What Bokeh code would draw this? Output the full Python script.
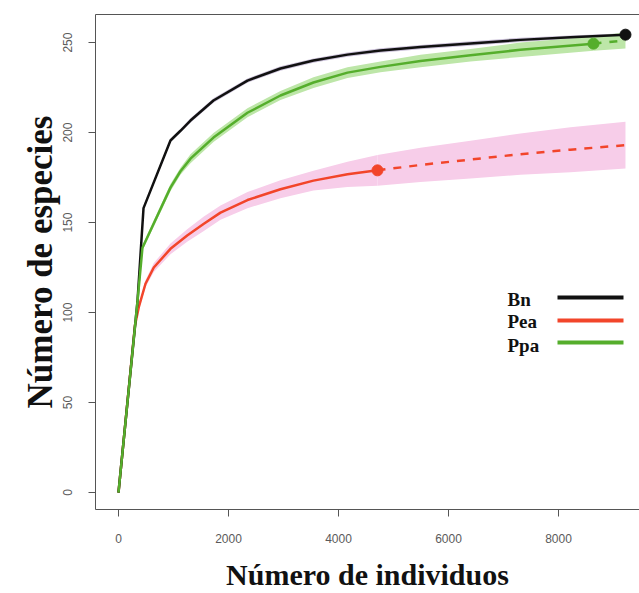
from bokeh.plotting import figure
from bokeh.models import Range1d, FixedTicker, LinearAxis, Label, BoxAnnotation
from bokeh.embed import file_html
from bokeh.resources import INLINE

# ---- data ----
bn_x = [0, 345, 455, 945, 1127, 1309, 1727, 2345, 2945, 3545, 4164, 4764, 5491, 6400, 7309, 8218, 9218]
bn_y = [0, 106, 158, 195.6, 201, 206.7, 217.8, 228.9, 235.6, 240, 243.3, 245.6, 247.5, 249.5, 251.5, 253, 254.4]
bn_ci = [0, 0.5, 1, 1, 1, 1.2, 1.2, 1.2, 1.2, 1.2, 1.2, 1.2, 1.2, 1.2, 1.2, 1, 0.8]

ppa_x = [0, 345, 436, 945, 1127, 1309, 1727, 2345, 2945, 3545, 4164, 4764, 5491, 6400, 7309, 8636]
ppa_y = [0, 106, 136, 169.4, 178.5, 185.5, 197.2, 211, 220.6, 227.8, 233.3, 236.5, 239.8, 243, 246, 249.4]
ppa_ci = [0, 1, 1.5, 2, 2, 2.5, 2.5, 2.5, 2.5, 3, 3, 3, 3.5, 3.5, 4, 4]
ppa_ext_x = [8636, 9218]
ppa_ext_y = [249.4, 251.2]
ppa_ext_ci = [4, 4.5]

pea_x = [0, 300, 369, 491, 642, 945, 1249, 1552, 1855, 2345, 2945, 3545, 4164, 4709]
pea_y = [0, 93, 103, 116, 125, 135.4, 142.8, 149.3, 155.5, 162.5, 168.5, 173.3, 176.8, 179]
pea_ci = [0, 1, 1.5, 2, 2.5, 3, 3.5, 4, 4, 4.5, 5, 5.5, 7, 8.5]
pea_ext_x = [4709, 5491, 6400, 7309, 8218, 9218]
pea_ext_y = [179, 182, 185, 188, 190.5, 193]
pea_ext_ci = [8.5, 9.5, 10.5, 11.5, 12.5, 13]

series_names = ["Bn", "Pea", "Ppa"]
x_ticks = [0, 2000, 4000, 6000, 8000]
y_ticks = [0, 50, 100, 150, 200, 250]

BLACK = "#111111"
RED = "#F2452A"
GREEN = "#55AE2C"

p = figure(width=639, height=593, output_backend="svg", toolbar_location=None,
           x_range=Range1d(-418, 9473), y_range=Range1d(-9.44, 265.6),
           min_border_left=95, min_border_right=0, min_border_top=14, min_border_bottom=84)
p.outline_line_color = None
p.xgrid.visible = False
p.ygrid.visible = False
p.background_fill_color = "white"

def band(xs, ys, ci, color):
    p.varea(x=xs, y1=[a - c for a, c in zip(ys, ci)], y2=[a + c for a, c in zip(ys, ci)],
            fill_color=color, fill_alpha=1.0)

band(pea_x, pea_y, pea_ci, "#F7CDE9")
band(pea_ext_x, pea_ext_y, pea_ext_ci, "#F7CDE9")
band(bn_x, bn_y, bn_ci, "#CDC3DA")
band(ppa_x, ppa_y, ppa_ci, "#BDE6A8")
band(ppa_ext_x, ppa_ext_y, ppa_ext_ci, "#BDE6A8")

p.line(pea_ext_x, pea_ext_y, line_color=RED, line_width=2.5, line_dash="8 8")
p.line(ppa_ext_x, ppa_ext_y, line_color=GREEN, line_width=2.5, line_dash="8 8")
p.line(pea_x, pea_y, line_color=RED, line_width=2.5)
p.line(bn_x, bn_y, line_color=BLACK, line_width=2.5)
p.line(ppa_x, ppa_y, line_color=GREEN, line_width=2.5)

p.scatter([bn_x[-1]], [bn_y[-1]], size=11, color=BLACK)
p.scatter([ppa_x[-1]], [ppa_y[-1]], size=11, color=GREEN)
p.scatter([pea_x[-1]], [pea_y[-1]], size=11, color=RED)

# axes
AX = "#555555"
p.xaxis.ticker = FixedTicker(ticks=x_ticks)
p.yaxis.ticker = FixedTicker(ticks=y_ticks)
for ax in (p.xaxis[0], p.yaxis[0]):
    ax.axis_line_color = AX
    ax.major_tick_line_color = AX
    ax.major_tick_out = 7
    ax.major_tick_in = 0
    ax.minor_tick_line_color = None
    ax.major_label_text_font = "Liberation Sans"
    ax.major_label_text_font_size = "12px"
    ax.major_label_text_color = "#5a5a5a"
    ax.axis_label_text_font = "Liberation Serif"
    ax.axis_label_text_font_style = "bold"
    ax.axis_label_text_color = "#111111"
p.yaxis.major_label_orientation = "vertical"
p.xaxis.major_label_standoff = 17
p.yaxis.major_label_standoff = 16
p.xaxis.axis_label = "Número de individuos"
p.yaxis.axis_label = "Número de especies"
p.xaxis.axis_label_text_font_size = "30px"
p.yaxis.axis_label_text_font_size = "35px"
p.xaxis.axis_label_standoff = 12
p.yaxis.axis_label_standoff = 1

top = LinearAxis(ticker=FixedTicker(ticks=[]), axis_line_color=AX,
                 major_label_text_font_size="0px", major_tick_line_color=None,
                 minor_tick_line_color=None)
p.add_layout(top, "above")

# legend (text left, line sample right) -- positions in frame screen units
leg_colors = [BLACK, RED, GREEN]
leg_text_y = [210, 188, 164]
leg_line_y = [212, 189, 167]
for name, col, ty, ly in zip(series_names, leg_colors, leg_text_y, leg_line_y):
    p.add_layout(Label(x=412, y=ty, x_units="screen", y_units="screen", text=name,
                       text_font="Liberation Serif", text_font_style="bold",
                       text_font_size="19px", text_color="#111111",
                       text_baseline="middle"))
    p.add_layout(BoxAnnotation(left=462, right=528, bottom=ly - 2, top=ly + 2,
                               left_units="screen", right_units="screen",
                               bottom_units="screen", top_units="screen",
                               fill_color=col, fill_alpha=1.0, line_color=None))

open("out.html", "w").write(file_html(p, INLINE))
